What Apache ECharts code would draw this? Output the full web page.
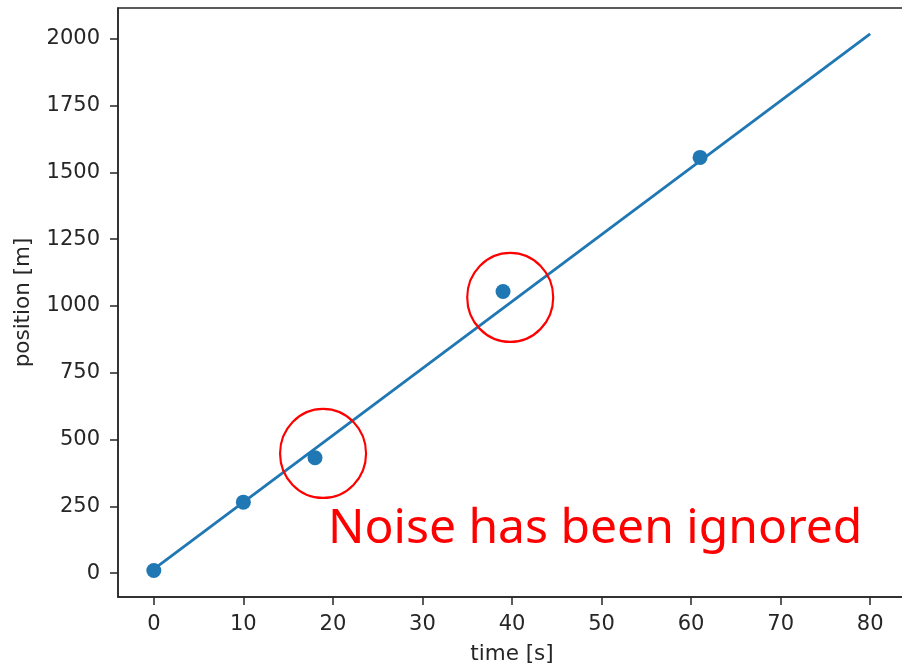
<!DOCTYPE html>
<html>
<head>
<meta charset="utf-8">
<script src="https://cdn.jsdelivr.net/npm/echarts@6/dist/echarts.min.js"></script>
<style>
  html, body { margin: 0; padding: 0; background: #fff; }
  #chart { width: 902px; height: 667px; }
</style>
</head>
<body>
<div id="chart"></div>
<script>
// Measured positions over time
var timeValues = [0, 10, 18, 39, 61];
var positionValues = [10, 266, 432, 1054, 1556];

// Fitted straight line (start and end of fit)
var fitTime = [0, 80];
var fitPosition = [15, 2018];

// Highlighted outliers (centre of each ring)
var ringTime = [18.9, 39.8];
var ringPosition = [448, 1032];

// Tick labels
var xTicks = [0, 10, 20, 30, 40, 50, 60, 70, 80];
var yTicks = [0, 250, 500, 750, 1000, 1250, 1500, 1750, 2000];

var note = 'Noise has been ignored';

var blue = '#1f77b4';
var ink = '#262626';
var tickFont = { fontFamily: 'DejaVu Sans', fontSize: 21, color: ink };
var nameFont = { fontFamily: 'DejaVu Sans', fontSize: 21.5, color: ink };

function pairs(a, b) { return a.map(function (v, i) { return [v, b[i]]; }); }
function plain(v) { return String(v); }

var chart = echarts.init(document.getElementById('chart'), null, { renderer: 'canvas' });

chart.setOption({
  animation: false,
  backgroundColor: '#fff',
  grid: {
    left: 118, top: 8, right: -4, bottom: 70,
    containLabel: false, outerBoundsMode: 'none',
    show: true, borderColor: ink, borderWidth: 1.5, backgroundColor: 'transparent'
  },
  xAxis: {
    type: 'value', min: -4, max: 84,
    name: 'time [s]', nameLocation: 'middle', nameGap: 46,
    nameTextStyle: nameFont,
    axisLine: { show: true, onZero: false, lineStyle: { color: ink, width: 1.5 } },
    axisTick: { show: true, length: 8, lineStyle: { color: ink, width: 1.5 }, customValues: xTicks },
    axisLabel: Object.assign({ margin: 17, customValues: xTicks, formatter: plain }, tickFont),
    splitLine: { show: false }
  },
  yAxis: {
    type: 'value', min: -89, max: 2115,
    name: 'position [m]', nameLocation: 'middle', nameGap: 84, nameRotate: 90,
    nameTextStyle: nameFont,
    axisLine: { show: true, onZero: false, lineStyle: { color: ink, width: 1.5 } },
    axisTick: { show: true, length: 8, lineStyle: { color: ink, width: 1.5 }, customValues: yTicks },
    axisLabel: Object.assign({ margin: 18, customValues: yTicks, formatter: plain }, tickFont),
    splitLine: { show: false }
  },
  series: [
    {
      type: 'line',
      data: pairs(fitTime, fitPosition),
      showSymbol: false,
      lineStyle: { color: blue, width: 2.8 },
      z: 2
    },
    {
      type: 'scatter',
      data: pairs(timeValues, positionValues),
      symbolSize: 15,
      itemStyle: { color: blue, opacity: 1 },
      z: 3
    },
    {
      type: 'scatter',
      data: pairs(ringTime, ringPosition),
      symbol: 'circle',
      symbolSize: [86, 89],
      itemStyle: { color: 'rgba(0,0,0,0)', borderColor: '#ff0000', borderWidth: 2.2, opacity: 1 },
      silent: true,
      z: 4
    }
  ],
  graphic: [
    {
      type: 'text',
      x: 328, y: 529.5,
      z: 10,
      style: {
        text: note,
        font: '48px "Noto Sans"',
        fill: '#ff0000',
        verticalAlign: 'middle'
      }
    }
  ]
});
</script>
</body>
</html>
